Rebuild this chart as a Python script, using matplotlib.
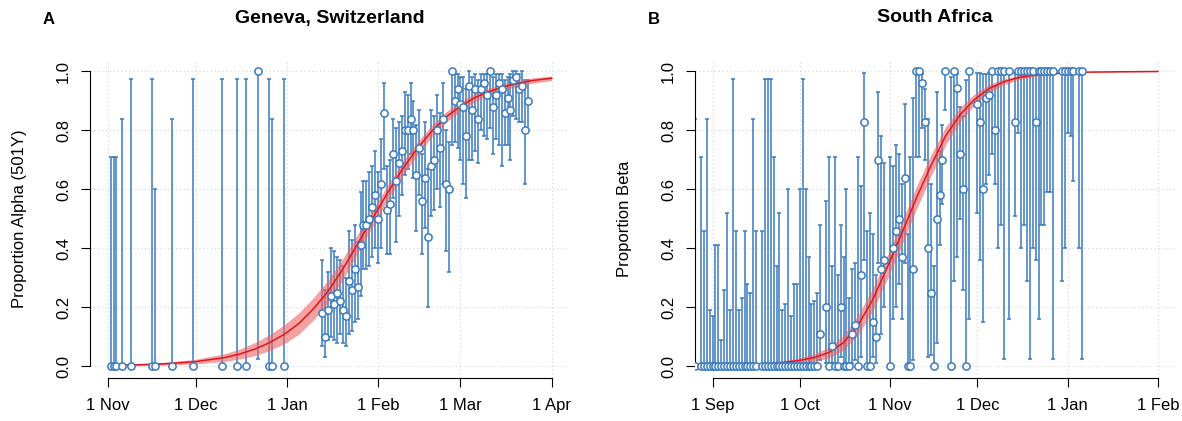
import numpy as np
import pandas as pd
import matplotlib
matplotlib.use('Agg')
import matplotlib.pyplot as plt
import matplotlib.dates as mdates

plt.rcParams['font.family'] = ['Liberation Sans', 'DejaVu Sans']

# ---- Panel A: Geneva (days counted from 1 Nov 2020) ----
a_days = [1, 2, 3, 5, 8, 15, 16, 22, 29, 39, 44, 47, 51, 55, 56, 60] + list(range(73, 144))
a_prop = [0, 0, 0, 0, 0, 0, 0, 0, 0, 0, 0, 0, 1, 0, 0, 0,
          0.18, 0.10, 0.19, 0.24, 0.21, 0.25, 0.22, 0.19, 0.17, 0.29,
          0.26, 0.33, 0.27, 0.41, 0.48, 0.48, 0.50, 0.54, 0.58, 0.50,
          0.62, 0.86, 0.53, 0.55, 0.72, 0.63, 0.69, 0.73, 0.80, 0.80,
          0.84, 0.80, 0.65, 0.74, 0.56, 0.64, 0.44, 0.68, 0.70, 0.80,
          0.74, 0.84, 0.62, 0.60, 1.00, 0.90, 0.94, 0.89, 0.88, 0.78,
          0.95, 0.87, 0.94, 0.84, 0.94, 0.96, 0.92, 1.00, 0.88, 0.92,
          0.96, 0.94, 0.86, 0.91, 0.87, 0.97, 0.98, 0.94, 0.95, 0.80,
          0.90]
a_lo = [0, 0, 0, 0, 0, 0, 0, 0, 0, 0, 0, 0, 0.025, 0, 0, 0,
        0.07, 0.03, 0.09, 0.10, 0.09, 0.08, 0.11, 0.08, 0.07, 0.11,
        0.12, 0.15, 0.16, 0.24, 0.33, 0.33, 0.34, 0.37, 0.40, 0.35,
        0.40, 0.67, 0.38, 0.38, 0.57, 0.42, 0.51, 0.58, 0.65, 0.67,
        0.72, 0.64, 0.46, 0.58, 0.38, 0.47, 0.20, 0.51, 0.53, 0.60,
        0.54, 0.62, 0.39, 0.32, 0.75, 0.76, 0.74, 0.70, 0.62, 0.57,
        0.70, 0.70, 0.73, 0.69, 0.80, 0.78, 0.77, 0.81, 0.72, 0.77,
        0.75, 0.68, 0.75, 0.75, 0.70, 0.85, 0.84, 0.83, 0.83, 0.62,
        0.80]
a_hi = [0.71, 0.71, 0.71, 0.84, 0.975, 0.975, 0.60, 0.84, 0.975, 0.975, 0.975, 0.975, 1.0, 0.975, 0.84, 0.975,
        0.36, 0.26, 0.32, 0.40, 0.39, 0.37, 0.36, 0.34, 0.30, 0.46,
        0.43, 0.48, 0.42, 0.59, 0.63, 0.63, 0.66, 0.68, 0.73, 0.66,
        0.77, 0.96, 0.68, 0.70, 0.84, 0.81, 0.83, 0.85, 0.93, 0.92,
        0.96, 0.90, 0.82, 0.87, 0.72, 0.83, 0.67, 0.87, 0.85, 0.92,
        0.86, 0.96, 0.80, 0.76, 1.00, 0.99, 0.99, 0.98, 0.98, 0.94,
        1.00, 0.98, 0.99, 0.97, 0.99, 0.99, 0.99, 1.00, 0.98, 0.99,
        0.99, 0.99, 0.97, 0.98, 0.99, 1.00, 1.00, 0.99, 1.00, 0.97,
        0.97]
a_fit_days = [1, 10, 20, 30, 40, 45, 50, 55, 60, 65, 70, 75, 80, 85, 90, 95, 100,
              105, 110, 115, 120, 125, 130, 135, 140, 145, 151]
a_fit = [0.003, 0.005, 0.009, 0.016, 0.030, 0.042, 0.058, 0.080, 0.108, 0.145, 0.195,
         0.255, 0.330, 0.415, 0.500, 0.585, 0.665, 0.735, 0.795, 0.845, 0.882, 0.912,
         0.933, 0.949, 0.961, 0.970, 0.977]
a_band = [0.002, 0.003, 0.005, 0.008, 0.013, 0.017, 0.022, 0.027, 0.032, 0.036, 0.038,
          0.038, 0.036, 0.032, 0.029, 0.026, 0.024, 0.022, 0.020, 0.018, 0.016, 0.014,
          0.012, 0.011, 0.010, 0.009, 0.008]
a_ticks = ['2020-11-01', '2020-12-01', '2021-01-01', '2021-02-01', '2021-03-01', '2021-04-01']
a_ticklabels = ['1 Nov', '1 Dec', '1 Jan', '1 Feb', '1 Mar', '1 Apr']

# ---- Panel B: South Africa (days counted from 1 Sep 2020) ----
b_days = [-6, -4, -3, -2, -1, 0, 1, 2, 3, 4,
          5, 6, 7, 8, 9, 10, 11, 12, 13, 14,
          15, 17, 18, 19, 20, 21, 22, 23, 24, 25,
          26, 27, 28, 29, 30, 31, 32, 33, 34, 35,
          36, 37, 39, 40, 41, 42, 43, 44, 45, 46,
          47, 48, 49, 50, 51, 52, 53, 54, 55, 56,
          57, 58, 59, 61, 62, 63, 64, 65, 66, 67,
          68, 69, 70, 71, 72, 73, 74, 75, 76, 77,
          78, 79, 80, 82, 83, 84, 85, 86, 87, 88,
          91, 92, 93, 94, 95, 96, 97, 98, 99, 100,
          102, 104, 105, 106, 107, 108, 109, 110, 111, 112,
          113, 114, 115, 116, 117, 120, 121, 122, 123, 124,
          126, 127]
b_prop = [0, 0, 0, 0, 0, 0, 0, 0, 0, 0,
          0, 0, 0, 0, 0, 0, 0, 0, 0, 0,
          0, 0, 0, 0, 0, 0, 0, 0, 0, 0,
          0, 0, 0, 0, 0, 0, 0, 0, 0, 0,
          0, 0.11, 0.20, 0, 0.07, 0, 0, 0.20, 0, 0,
          0, 0.11, 0.14, 0, 0.31, 0.83, 0, 0, 0.15, 0.10,
          0.70, 0.33, 0.36, 0, 0.40, 0.46, 0.50, 0.37, 0.64, 0,
          0, 0.33, 1, 1, 0.96, 0.83, 0.40, 0.25, 0, 0.50,
          0.58, 0.70, 1, 0, 1, 0.945, 0.72, 0.60, 0, 1,
          0.89, 0.83, 0.60, 0.91, 0.92, 1, 0.80, 1, 1, 1,
          1, 0.83, 1, 1, 1, 1, 1, 1, 0.83, 1,
          1, 1, 1, 1, 1, 1, 1, 1, 1, 1,
          1, 1]
b_lo = [0, 0, 0, 0, 0, 0, 0, 0, 0, 0,
        0, 0, 0, 0, 0, 0, 0, 0, 0, 0,
        0, 0, 0, 0, 0, 0, 0, 0, 0, 0,
        0, 0, 0, 0, 0, 0, 0, 0, 0, 0,
        0, 0.02, 0.01, 0, 0.01, 0, 0, 0.03, 0, 0,
        0, 0.01, 0.02, 0, 0.03, 0.36, 0, 0, 0.03, 0.01,
        0.35, 0.11, 0.20, 0, 0.16, 0.20, 0.28, 0.16, 0.35, 0,
        0, 0.02, 0.71, 0.71, 0.81, 0.70, 0.03, 0.04, 0, 0.08,
        0.41, 0.55, 0.87, 0, 0.29, 0.37, 0.50, 0.26, 0, 0.16,
        0.52, 0.36, 0.15, 0.62, 0.65, 0.72, 0.62, 0.40, 0.48, 0.025,
        0.16, 0.51, 0.79, 0.40, 0.48, 0.29, 0.025, 0.40, 0.36, 0.16,
        0.48, 0.48, 0.59, 0.59, 0.025, 0.29, 0.40, 0.79, 0.78, 0.63,
        0.40, 0.025]
b_hi = [0.84, 0.71, 0.46, 0.84, 0.19, 0.17, 0.41, 0.41, 0.09, 0.26,
        0.52, 0.19, 0.975, 0.46, 0.19, 0.23, 0.46, 0.28, 0.25, 0.84,
        0.46, 0.46, 0.975, 0.975, 0.975, 0.71, 0.34, 0.52, 0.19, 0.21,
        0.60, 0.17, 0.28, 0.28, 0.60, 0.975, 0.60, 0.37, 0.21, 0.22,
        0.25, 0.48, 0.56, 0.71, 0.34, 0.71, 0.31, 0.48, 0.37, 0.60,
        0.23, 0.33, 0.35, 0.71, 0.61, 0.995, 0.46, 0.52, 0.45, 0.31,
        0.93, 0.78, 0.69, 0.71, 0.68, 0.75, 0.72, 0.62, 0.89, 0.45,
        0.71, 0.91, 1, 1, 0.99, 0.94, 0.84, 0.62, 0.34, 0.93,
        0.73, 0.82, 1, 0.98, 1, 0.99, 0.88, 0.85, 0.97, 1,
        0.995, 0.995, 0.99, 0.99, 0.995, 1, 0.95, 1, 1, 1,
        1, 0.995, 1, 1, 1, 1, 1, 1, 0.995, 1,
        1, 1, 1, 1, 1, 1, 1, 1, 1, 1,
        1, 1]
b_fit_days = [-6, 0, 10, 20, 25, 30, 35, 40, 45, 50, 55, 60, 65, 70, 75, 80, 85, 90,
              95, 100, 105, 110, 120, 130, 140, 153]
b_fit = [0.0005, 0.001, 0.003, 0.009, 0.014, 0.020, 0.030, 0.047, 0.080, 0.140, 0.225,
         0.335, 0.450, 0.570, 0.680, 0.780, 0.853, 0.905, 0.942, 0.965, 0.979, 0.987,
         0.995, 0.998, 0.999, 1.000]
b_band = [0.0002, 0.0005, 0.0015, 0.004, 0.006, 0.009, 0.013, 0.018, 0.025, 0.033,
          0.038, 0.040, 0.040, 0.039, 0.036, 0.031, 0.025, 0.019, 0.014, 0.010, 0.007,
          0.005, 0.002, 0.001, 0.0005, 0.0002]
b_ticks = ['2020-09-01', '2020-10-01', '2020-11-01', '2020-12-01', '2021-01-01', '2021-02-01']
b_ticklabels = ['1 Sep', '1 Oct', '1 Nov', '1 Dec', '1 Jan', '1 Feb']

BLUE = '#3a7bbf'
RED = '#e3141b'
BAND = '#ee6262'


def to_dates(start, days):
    return pd.Timestamp(start) + pd.to_timedelta(np.asarray(days, dtype=float), unit='D')


def panel(ax, start, days, prop, lo, hi, fit_days, fit, band, ticks, ticklabels):
    x = to_dates(start, days)
    prop = np.array(prop, dtype=float)
    lo = np.array(lo, dtype=float)
    hi = np.array(hi, dtype=float)
    fit = np.array(fit)
    band = np.array(band)

    ax.errorbar(x, prop, yerr=[prop - lo, hi - prop], fmt='none', ecolor=BLUE,
                elinewidth=1.1, capsize=1.6, capthick=1.1, zorder=2)
    fx = to_dates(start, fit_days)
    ax.fill_between(fx, np.clip(fit - band, 0, 1), np.clip(fit + band, 0, 1),
                    color=BAND, alpha=0.6, lw=0, zorder=3)
    ax.plot(fx, fit, color=RED, lw=1.1, zorder=4)
    ax.plot(x, prop, 'o', ms=5.2, mfc='white', mec=BLUE, mew=1.1, zorder=5)

    t = pd.to_datetime(ticks)
    ext = (t[-1] - t[0]) * 0.04
    ax.set_xlim(t[0] - ext, t[-1] + ext)
    ax.set_ylim(-0.04, 1.04)
    ax.set_xticks(t)
    ax.set_xticklabels(ticklabels)
    yt = [0, 0.2, 0.4, 0.6, 0.8, 1.0]
    ax.set_yticks(yt)
    ax.set_yticklabels([f'{v:.1f}' for v in yt], rotation=90, va='center')

    ax.grid(True, color='#d2d2d2', linestyle=(0, (1, 2.5)), linewidth=0.8)
    ax.set_axisbelow(True)
    for s in ['top', 'right']:
        ax.spines[s].set_visible(False)
    ax.spines['left'].set_bounds(0, 1)
    ax.spines['bottom'].set_bounds(mdates.date2num(t[0]), mdates.date2num(t[-1]))
    for s in ['left', 'bottom']:
        ax.spines[s].set_linewidth(0.8)
    ax.tick_params(axis='both', length=6.5, width=0.8, labelsize=12)
    ax.tick_params(axis='x', pad=8)
    ax.tick_params(axis='y', pad=7)


W, H = 1182, 421
fig = plt.figure(figsize=(W / 100, H / 100), dpi=100)
axA = fig.add_axes([89.9 / W, 0.1019, 479.5 / W, 0.7563])
axB = fig.add_axes([694.7 / W, 0.1019, 481.0 / W, 0.7563])

panel(axA, '2020-11-01', a_days, a_prop, a_lo, a_hi, a_fit_days, a_fit, a_band, a_ticks, a_ticklabels)
panel(axB, '2020-09-01', b_days, b_prop, b_lo, b_hi, b_fit_days, b_fit, b_band, b_ticks, b_ticklabels)

ymid = 1 - 219 / H
fig.text(20 / W, ymid, 'Proportion Alpha (501Y)', rotation=90, ha='center', va='center', fontsize=12)
fig.text(624 / W, ymid, 'Proportion Beta', rotation=90, ha='center', va='center', fontsize=12)

fig.text((89.9 + 479.5 / 2) / W, 1 - 18 / H, 'Geneva, Switzerland', ha='center', va='center',
         fontsize=14, fontweight='bold')
fig.text((694.7 + 481.0 / 2) / W, 1 - 18 / H, 'South Africa', ha='center', va='center',
         fontsize=14, fontweight='bold')
fig.text(48.5 / W, 1 - 19 / H, 'A', ha='center', va='center', fontsize=12, fontweight='bold')
fig.text(654 / W, 1 - 19 / H, 'B', ha='center', va='center', fontsize=12, fontweight='bold')

fig.savefig('out.png', dpi=100)
